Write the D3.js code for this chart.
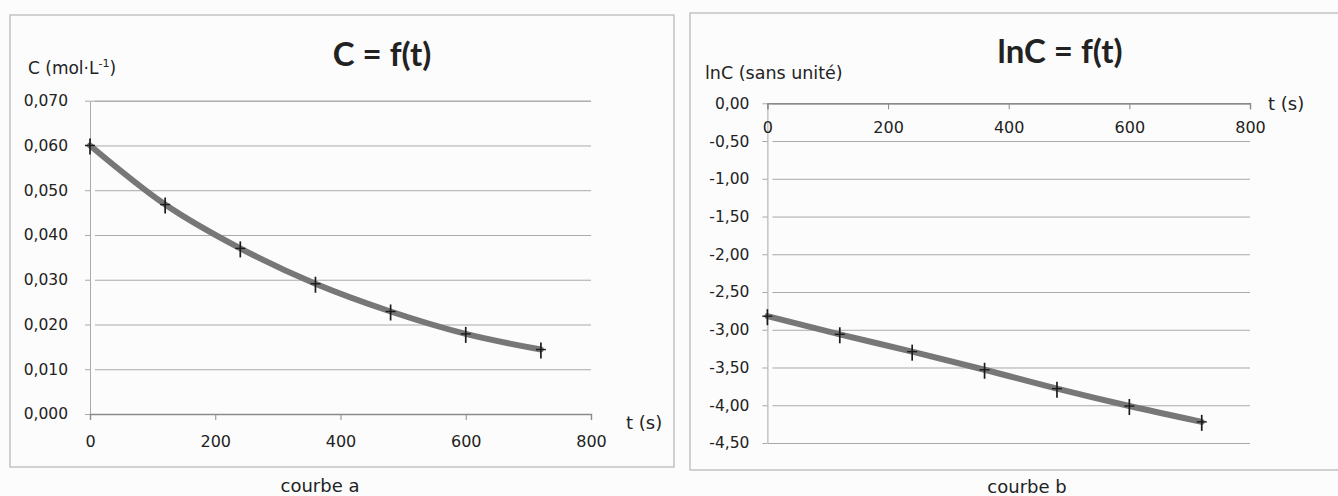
<!DOCTYPE html>
<html><head><meta charset="utf-8">
<script src="https://cdn.jsdelivr.net/npm/d3@7"></script>
<style>
html,body{margin:0;padding:0;background:#fcfcfc;}
svg{display:block;}
text{fill:#222;}
</style></head>
<body>
<svg id="chart" width="1338" height="496"></svg>
<script>
// ---- data ----
const times = [0, 120, 240, 360, 480, 600, 720];
const concValues = [0.0600, 0.0468, 0.0370, 0.0291, 0.0229, 0.0179, 0.0144];
const lnConcValues = [-2.82, -3.06, -3.29, -3.53, -3.78, -4.01, -4.22];
const timeTicks = [0, 200, 400, 600, 800];
const concTicks = [0, 0.01, 0.02, 0.03, 0.04, 0.05, 0.06, 0.07];
const lnTicks = [0, -0.5, -1, -1.5, -2, -2.5, -3, -3.5, -4, -4.5];
const titles = ["C = f(t)", "lnC = f(t)"];
const captions = ["courbe a", "courbe b"];

const svg = d3.select("#chart");
const fr = d3.formatLocale({decimal: ",", thousands: " ", grouping: [3], currency: ["", ""], minus: "-"});
const fmt3 = fr.format(".3f"), fmt2 = fr.format(".2f");
const tickFont = "DejaVu Sans, sans-serif";
const gridColor = "#a9a9a9";

function frame(x0, y0, x1, y1) {
  svg.append("rect").attr("x", x0).attr("y", y0).attr("width", x1 - x0).attr("height", y1 - y0)
    .attr("fill", "none").attr("stroke", "#b5b5b5").attr("stroke-width", 1.2);
}

function markers(g, pts, x, y) {
  const m = g.selectAll("g.mk").data(pts).join("g").attr("class", "mk")
    .attr("transform", d => `translate(${x(d[0])},${y(d[1])})`);
  m.append("line").attr("x1", 0).attr("x2", 0).attr("y1", -7).attr("y2", 9)
    .attr("stroke", "#1c1c1c").attr("stroke-width", 1.7);
  m.append("line").attr("x1", -5).attr("x2", 5).attr("y1", 0).attr("y2", 0)
    .attr("stroke", "#1c1c1c").attr("stroke-width", 1.4);
}

// ================= LEFT CHART =================
frame(10, 15, 674, 467);
{
  const x = d3.scaleLinear().domain([0, 800]).range([90, 591]);
  const y = d3.scaleLinear().domain([0, 0.07]).range([414, 100.7]);
  const g = svg.append("g");

  const ya = g.append("g").attr("transform", `translate(${x(0)},0)`)
    .call(d3.axisLeft(y).tickValues(concTicks).tickFormat(fmt3)
      .tickSize(-(x(800) - x(0))).tickPadding(22));
  ya.select(".domain").attr("stroke", gridColor);
  ya.selectAll(".tick line").attr("stroke", gridColor).attr("x1", 5);
  ya.selectAll(".tick text").attr("font-family", tickFont).attr("font-size", 15.5).attr("fill", "#222");
  ya.selectAll(".tick").append("line").attr("x1", -5).attr("x2", 0).attr("stroke", gridColor);

  const xa = g.append("g").attr("transform", `translate(0,${y(0)})`)
    .call(d3.axisBottom(x).tickValues(timeTicks).tickFormat(d3.format("d")).tickSize(6).tickPadding(16));
  xa.select(".domain").attr("stroke", "#8a8a8a").attr("stroke-width", 1.4);
  xa.selectAll(".tick line").attr("stroke", "#8a8a8a");
  xa.selectAll(".tick text").attr("font-family", tickFont).attr("font-size", 16).attr("fill", "#222");

  const pts = times.map((t, i) => [t, concValues[i]]);
  g.append("path").datum(pts)
    .attr("d", d3.line().x(d => x(d[0])).y(d => y(d[1])).curve(d3.curveMonotoneX))
    .attr("fill", "none").attr("stroke", "#777").attr("stroke-width", 6).attr("stroke-linecap", "round");
  markers(g, pts, x, y);

  g.append("text").attr("x", 382).attr("y", 66).attr("text-anchor", "middle")
    .attr("font-family", "Lato, sans-serif").attr("font-weight", "bold").attr("font-size", 33)
    .text(titles[0]);
  const yl = g.append("text").attr("x", 28).attr("y", 74).attr("font-family", tickFont).attr("font-size", 17);
  yl.append("tspan").text("C (mol·L");
  yl.append("tspan").attr("dy", -7).attr("font-size", 11).text("-1");
  yl.append("tspan").attr("dy", 7).text(")");
  g.append("text").attr("x", 626).attr("y", 429).attr("font-family", tickFont).attr("font-size", 18).text("t (s)");
  g.append("text").attr("x", 320).attr("y", 492).attr("text-anchor", "middle")
    .attr("font-family", tickFont).attr("font-size", 18).text(captions[0]);
}

// ================= RIGHT CHART =================
frame(690, 13, 1345, 470);
{
  const x = d3.scaleLinear().domain([0, 800]).range([767.4, 1250]);
  const y = d3.scaleLinear().domain([-4.5, 0]).range([443, 103.3]);
  const g = svg.append("g");

  const ya = g.append("g").attr("transform", `translate(${x(0)},0)`)
    .call(d3.axisLeft(y).tickValues(lnTicks).tickFormat(fmt2)
      .tickSize(-(x(800) - x(0))).tickPadding(18));
  ya.select(".domain").attr("stroke", gridColor);
  ya.selectAll(".tick line").attr("stroke", gridColor).attr("x1", 5);
  ya.selectAll(".tick text").attr("font-family", tickFont).attr("font-size", 15.5).attr("fill", "#222");
  ya.selectAll(".tick").append("line").attr("x1", -5).attr("x2", 0).attr("stroke", gridColor);

  const xa = g.append("g").attr("transform", `translate(0,${y(0)})`)
    .call(d3.axisBottom(x).tickValues(timeTicks).tickFormat(d3.format("d")).tickSize(6).tickPadding(12));
  xa.select(".domain").attr("stroke", "#8a8a8a").attr("stroke-width", 1.4);
  xa.selectAll(".tick line").attr("stroke", "#8a8a8a");
  xa.selectAll(".tick text").attr("font-family", tickFont).attr("font-size", 16).attr("fill", "#222");

  const pts = times.map((t, i) => [t, lnConcValues[i]]);
  g.append("path").datum(pts)
    .attr("d", d3.line().x(d => x(d[0])).y(d => y(d[1])).curve(d3.curveMonotoneX))
    .attr("fill", "none").attr("stroke", "#777").attr("stroke-width", 6).attr("stroke-linecap", "round");
  markers(g, pts, x, y);

  g.append("text").attr("x", 1060).attr("y", 63).attr("text-anchor", "middle")
    .attr("font-family", "Lato, sans-serif").attr("font-weight", "bold").attr("font-size", 33)
    .text(titles[1]);
  g.append("text").attr("x", 705).attr("y", 79).attr("font-family", tickFont).attr("font-size", 17.5)
    .text("lnC (sans unité)");
  g.append("text").attr("x", 1268).attr("y", 110).attr("font-family", tickFont).attr("font-size", 18).text("t (s)");
  g.append("text").attr("x", 1027).attr("y", 493).attr("text-anchor", "middle")
    .attr("font-family", tickFont).attr("font-size", 18).text(captions[1]);
}
</script>
</body></html>
